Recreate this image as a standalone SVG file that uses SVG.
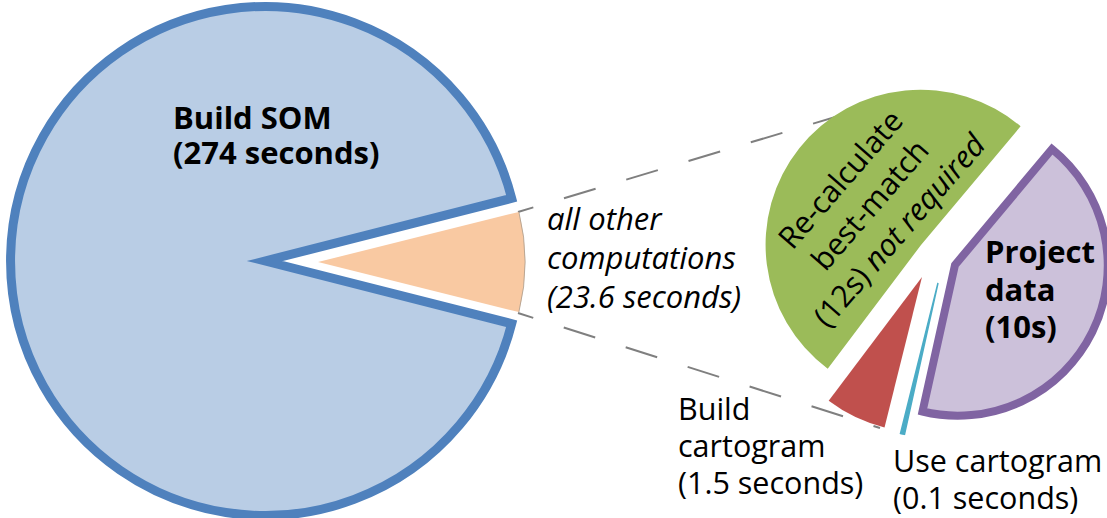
<svg xmlns="http://www.w3.org/2000/svg" width="1107" height="518" viewBox="0 0 1107 518">
  <style>
    text { font-family: "Open Sans", "Noto Sans", "Liberation Sans", sans-serif; fill: #000; font-size: 30.5px; }
    .bold { font-weight: bold; font-size: 31px; }
    .it { font-style: italic; font-size: 31px; }
    .lead { fill: none; stroke: #7f7f7f; stroke-width: 2; stroke-dasharray: 33 32; }
  </style>
  <rect width="1107" height="518" fill="#ffffff"/>

  <!-- leader lines from the small slice to the secondary pie -->
  <g id="connectors">
    <line class="lead" x1="518" y1="212" x2="842" y2="115" stroke-dashoffset="17"/>
    <line class="lead" x1="518" y1="313" x2="880" y2="428" stroke-dashoffset="17"/>
  </g>

  <!-- main pie: build SOM -->
  <g id="build-som">
    <path d="M265 261 L511.7 323.7 A254.5 254.5 0 1 1 511.7 198.3 Z" fill="#b9cde5" stroke="#4f81bd" stroke-width="9" stroke-linejoin="miter" stroke-miterlimit="10"/>
    <text class="bold" x="173" y="129">Build SOM<tspan x="173" dy="35">(274 seconds)</tspan></text>
  </g>

  <!-- main pie: remaining computations -->
  <g id="other-computations">
    <path d="M318 262 L518.9 211.9 A207 207 0 0 1 518.9 312.1 Z" fill="#f9c9a2"/>
    <path d="M518.9 211.9 A207 207 0 0 1 518.9 312.1" fill="none" stroke="#a89a8c" stroke-width="0.8"/>
    <text class="it" x="547" y="230">all other<tspan x="547" dy="39">computations</tspan><tspan x="547" dy="39">(23.6 seconds)</tspan></text>
  </g>

  <!-- secondary pie: re-calculate best-match -->
  <g id="recalculate">
    <path d="M921 245 L1020.6 126.3 A155 155 0 1 0 827.7 368.8 Z" fill="#9bbb59"/>
    <text transform="translate(878 212) rotate(-49)" text-anchor="middle" x="0" y="-39">Re-calculate<tspan x="0" dy="39">best-match</tspan><tspan x="0" dy="39">(12s) <tspan font-style="italic">not required</tspan></tspan></text>
  </g>

  <!-- secondary pie: build cartogram -->
  <g id="build-cartogram">
    <path d="M922 277 L884.5 427.4 A155 155 0 0 1 828.7 400.8 Z" fill="#c0504d"/>
    <text x="678" y="420">Build<tspan x="678" dy="37">cartogram</tspan><tspan x="678" dy="37">(1.5 seconds)</tspan></text>
  </g>

  <!-- secondary pie: use cartogram -->
  <g id="use-cartogram">
    <path d="M938 283 L904.5 434.3 A155 155 0 0 1 900.5 433.4 Z" fill="#4bacc6" stroke="#4bacc6" stroke-width="1.5"/>
    <text x="893" y="472">Use cartogram<tspan x="893" dy="37">(0.1 seconds)</tspan></text>
  </g>

  <!-- secondary pie: project data -->
  <g id="project-data">
    <path d="M955 265 L1052 149 A150 150 0 0 1 922.5 411.5 Z" fill="#ccc1da" stroke="#8064a2" stroke-width="8" stroke-linejoin="miter"/>
    <text class="bold" x="985" y="263">Project<tspan x="985" dy="37.5">data</tspan><tspan x="985" dy="37.5">(10s)</tspan></text>
  </g>
</svg>
